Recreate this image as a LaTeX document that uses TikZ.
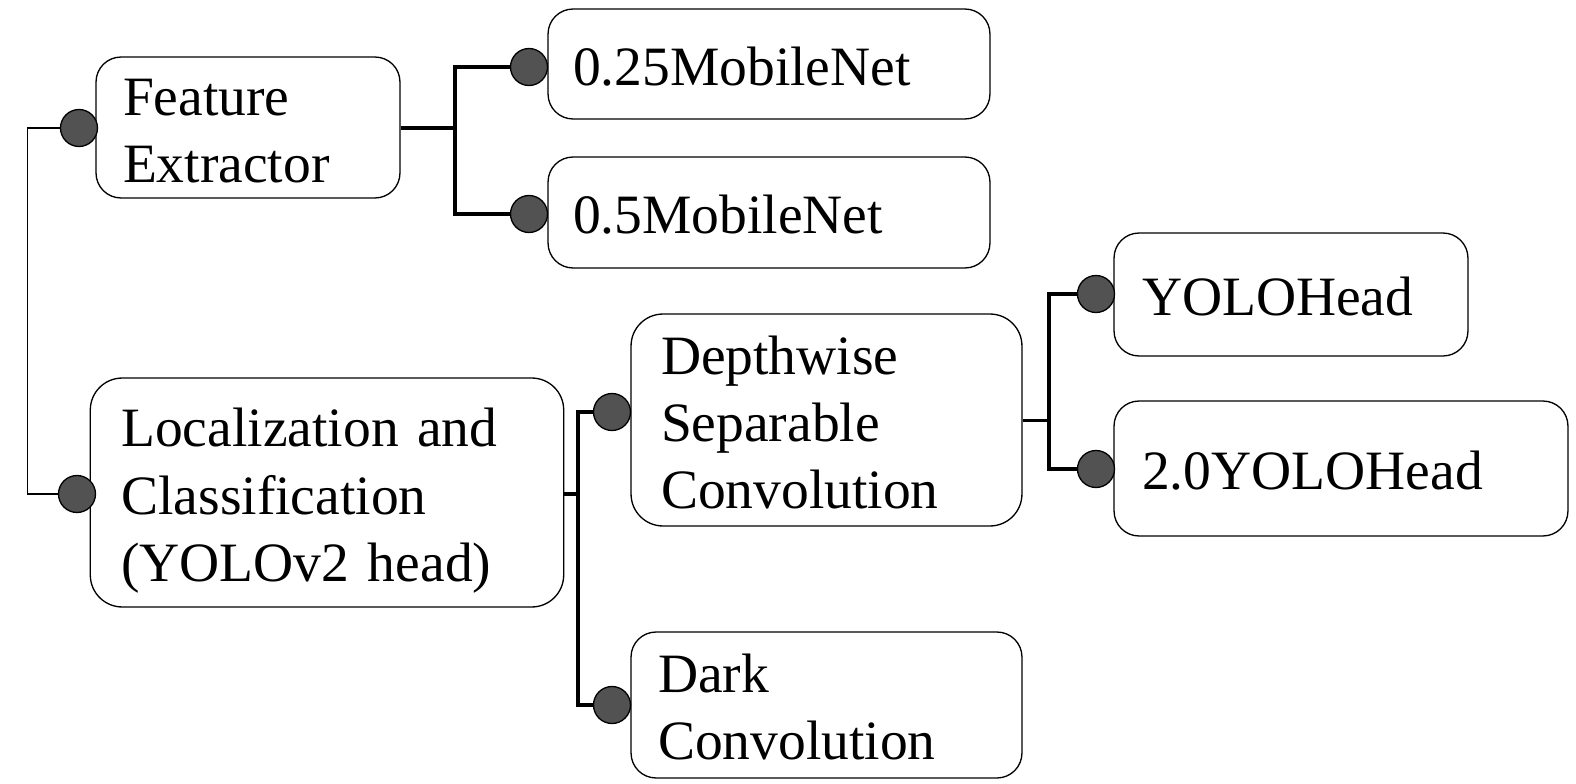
\documentclass[tikz,border=0pt]{standalone}
\usepackage{fontspec}
\setmainfont{Liberation Serif}
\usepackage{tikz}
\usetikzlibrary{positioning, calc}

\begin{document}
\begin{tikzpicture}[x=0.02cm, y=-0.02cm,
        box/.style={draw, rounded corners=0.5cm, line width=0.75pt, align=left, inner xsep=0.54cm, inner ysep=0pt, text height=0.86cm, font=\fontsize{31.6}{38.2}\selectfont},
        dot/.style={circle, draw, fill=black!68, minimum size=0.74cm, inner sep=0pt, line width=0.75pt},
        link/.style={line width=2pt},
        root/.style={line width=0.8pt}]
        \useasboundingbox (0,0) rectangle (1576,784);

        % Boxes
        \node[box, minimum width=6.08cm, minimum height=2.82cm, text width=5.0cm] (fe) at (248,127.5) {Feature\\Extractor};
        \node[box, minimum width=8.84cm, minimum height=2.2cm, text width=7.84cm, inner xsep=0.5cm] (m25) at (769,64) {0.25MobileNet};
        \node[box, minimum width=8.84cm, minimum height=2.22cm, text width=7.84cm, inner xsep=0.5cm] (m50) at (769,212.5) {0.5MobileNet};

        \node[box, rounded corners=0.64cm, minimum width=9.47cm, minimum height=4.58cm, text width=8.23cm, inner xsep=0.62cm, text height=1.1cm] (loc) at (327,492.5) {Localization and\\Classification\\(YOLOv2 head)};
        \node[box, rounded corners=0.64cm, minimum width=7.82cm, minimum height=4.24cm, text width=6.62cm, inner xsep=0.6cm] (dsc) at (826.5,420) {Depthwise\\Separable\\Convolution};
        \node[box, minimum width=7.82cm, minimum height=2.92cm, text width=6.74cm] (dark) at (826.5,705) {Dark\\Convolution};

        \node[box, minimum width=7.08cm, minimum height=2.46cm, text width=5.96cm, inner xsep=0.56cm] (yh) at (1291,294.5) {YOLOHead};
        \node[box, minimum width=9.08cm, minimum height=2.7cm, text width=7.96cm, inner xsep=0.56cm] (yh2) at (1341,468.5) {2.0YOLOHead};

        % Dots
        \node[dot] (fed) at (79,128) {};
        \node[dot] (locd) at (77,494) {};
        \node[dot] (m25d) at (529,67) {};
        \node[dot] (m50d) at (529,214) {};
        \node[dot] (dscd) at (612,412) {};
        \node[dot] (darkd) at (612,705) {};
        \node[dot] (yhd) at (1096,294) {};
        \node[dot] (yh2d) at (1096,469) {};

        % Junctions
        \coordinate (rootj) at (27.5,300);
        \coordinate (fej) at (455,128);
        \coordinate (locj) at (578,494);
        \coordinate (dscj) at (1049,420.7);

        % Connectors
        \draw[root] (fed) -| (rootj) |- (locd);

        \draw[link] (fe.east |- fej) -- (fej);
        \draw[link] (m25d) -| (fej) |- (m50d);

        \draw[link] (loc.east |- locj) -- (locj);
        \draw[link] (dscd) -| (locj) |- (darkd);

        \draw[link] (dsc.east |- dscj) -- (dscj);
        \draw[link] (yhd) -| (dscj) |- (yh2d);
    \end{tikzpicture}
\end{document}
